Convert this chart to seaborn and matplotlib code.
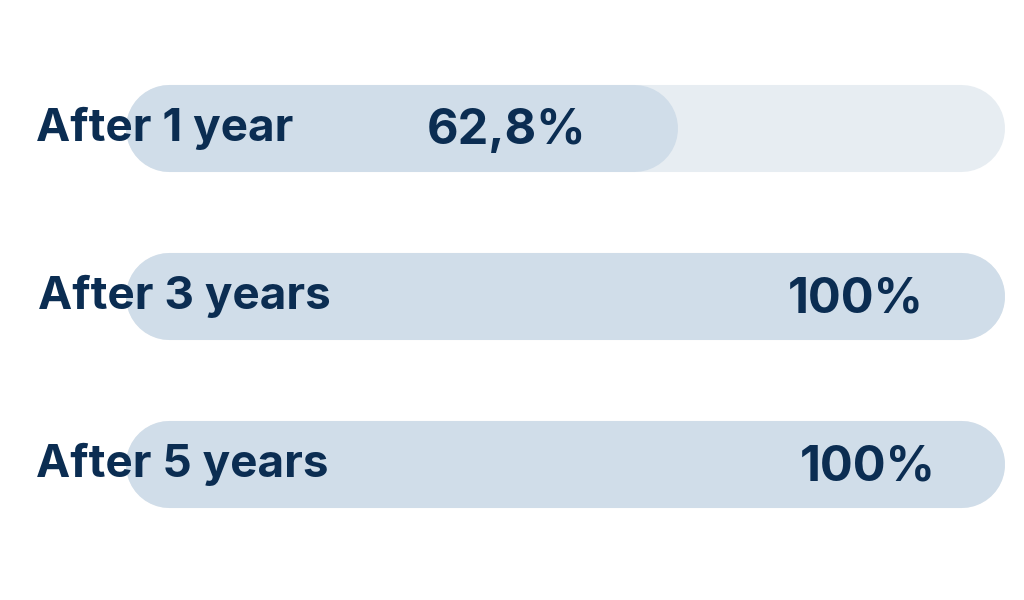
import matplotlib
matplotlib.use("Agg")
import matplotlib.pyplot as plt
from matplotlib.lines import Line2D
import seaborn as sns
import pandas as pd

categories = ["After 1 year", "After 3 years", "After 5 years"]
values = [62.8, 100, 100]
value_labels = ["62,8%", "100%", "100%"]
track_max = [100, 100, 100]

NAVY = "#0b2d52"
FILL = "#d0dde9"
TRACK = "#e7edf2"

sns.set_theme(style="white")
plt.rcParams["font.family"] = ["Inter", "DejaVu Sans"]

fig = plt.figure(figsize=(10.24, 6), dpi=100)
ax = fig.add_axes([0, 0, 1, 1])

df = pd.DataFrame({"cat": categories, "val": values, "track": track_max})
BAR_H = 0.518
sns.barplot(data=df, x="track", y="cat", color=TRACK, width=BAR_H, ax=ax, saturation=1)
sns.barplot(data=df, x="val", y="cat", color=FILL, width=BAR_H, ax=ax, saturation=1)

# x: 0 -> 125px, 100 -> 1005px ; y: rows at 128, 296, 464 px
px_per_x = 880 / 100
ax.set_xlim(-125 / px_per_x, 100 + 19 / px_per_x)
px_per_y = 168
ax.set_ylim(2 + (600 - 464) / px_per_y, -128 / px_per_y)
ax.axis("off")

# replace rectangles by stadium-shaped bars (thick lines with round caps)
rx = (BAR_H / 2) * px_per_y / px_per_x  # cap radius in x data units
lw_pt = BAR_H * px_per_y * 72 / fig.dpi
rects = list(ax.patches)
for z, r in enumerate(rects):
    x0, y0 = r.get_x(), r.get_y()
    w, h = r.get_width(), r.get_height()
    fc = r.get_facecolor()
    r.remove()
    yc = y0 + h / 2
    ln = Line2D([x0 + rx, x0 + w - rx], [yc, yc], linewidth=lw_pt,
                color=fc, solid_capstyle="round", zorder=1 + z * 0.01)
    ax.add_line(ln)

label_x = [-10.1, -9.9, -10.1]
value_x = [43.3, 83.0, 84.4]
for i, (cat, lab) in enumerate(zip(categories, value_labels)):
    ax.text(label_x[i], i, cat, ha="left", va="center", fontsize=33,
            fontweight="bold", color=NAVY, zorder=3)
    ax.text(value_x[i], i + 0.02, lab, ha="center", va="center", fontsize=35,
            fontweight="bold", color=NAVY, zorder=3)

fig.savefig("out.png", dpi=100, facecolor="white")
